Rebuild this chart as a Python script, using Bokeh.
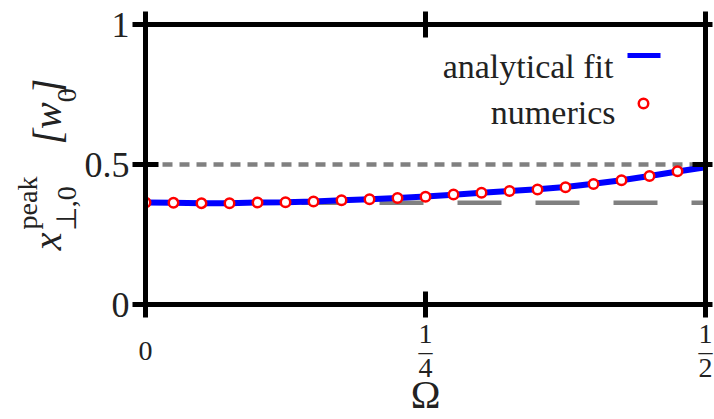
import math
from bokeh.plotting import figure
from bokeh.models import Range1d, FixedTicker, LinearAxis, Span, Label, Arrow, ColumnDataSource
from bokeh.embed import file_html
from bokeh.resources import INLINE

# ---------------- data ----------------
omega_num = [0.0, 0.025, 0.05, 0.075, 0.1, 0.125, 0.15, 0.175, 0.2, 0.225,
             0.25, 0.275, 0.3, 0.325, 0.35, 0.375, 0.4, 0.425, 0.45, 0.475]
xpeak_num = [0.364, 0.363, 0.362, 0.362, 0.364, 0.365, 0.368, 0.372, 0.376, 0.380,
             0.385, 0.393, 0.399, 0.405, 0.411, 0.419, 0.430, 0.444, 0.459, 0.476]
omega_fit = [0.0, 0.025, 0.05, 0.075, 0.1, 0.125, 0.15, 0.175, 0.2, 0.225,
             0.25, 0.275, 0.3, 0.325, 0.35, 0.375, 0.4, 0.425, 0.45, 0.475, 0.5]
xpeak_fit = [0.364, 0.363, 0.362, 0.362, 0.364, 0.365, 0.368, 0.372, 0.376, 0.380,
             0.386, 0.392, 0.399, 0.405, 0.412, 0.420, 0.431, 0.444, 0.459, 0.475, 0.490]
ref_upper = 0.5
ref_lower = 0.363

x_ticks = [0, 0.25, 0.5]
x_tick_labels = ["\u00a0\n0", "1\n\u2013\n4", "1\n\u2013\n2"]   # 0, stacked fractions 1/4, 1/2
y_ticks = [0, 0.5, 1]
y_tick_labels = ["0", "0.5", "1"]
x_title = "\u03a9"
# y title x^{peak}_{⊥,0} [w_0], split in superscript / main / subscript rows
EM, EN, S3, S4, S6, THIN = "\u2003", "\u2002", "\u2004", "\u2005", "\u2006", "\u2009"
y_title_sup = "peak" + EM + EM + S3 + S4 + S6
y_title_main = "x" + EM + EM + THIN + "[w" + THIN + "]"
y_title_sub = S3 + "\u22a5,0" + EM + EM + EM + "0"
legend_labels = ["analytical fit", "numerics"]

# ---------------- geometry (page pixels) ----------------
W, H = 714, 419
FL, FT, FW, FH = 145, 24, 560, 280
FR = W - FL - FW
FB = H - FT - FH

def dx(px):
    return (px - FL) / FW * 0.5

def dy(py):
    return 1 - (py - FT) / FH

SERIF = "Liberation Serif"
TXT = "#222222"

p = figure(width=W, height=H, x_range=Range1d(0, 0.5), y_range=Range1d(0, 1),
           output_backend="svg", toolbar_location=None,
           x_axis_location=None, y_axis_location=None,
           min_border_left=FL, min_border_right=FR, min_border_top=FT, min_border_bottom=FB)
p.xgrid.visible = False
p.ygrid.visible = False
p.outline_line_color = None
p.background_fill_color = "white"
p.border_fill_color = "white"

def style_axis(ax, ticks, tin, tout, show_labels=False, size="36px"):
    ax.ticker = FixedTicker(ticks=ticks)
    ax.axis_line_width = 5
    ax.axis_line_color = "black"
    ax.major_tick_line_width = 5
    ax.major_tick_line_color = "black"
    ax.major_tick_in = tin
    ax.major_tick_out = tout
    ax.minor_tick_line_color = None
    ax.axis_label_text_font = SERIF
    ax.axis_label_text_color = TXT
    ax.axis_label_text_font_style = "normal"
    if show_labels:
        ax.major_label_text_font = SERIF
        ax.major_label_text_font_size = size
        ax.major_label_text_color = TXT
        ax.major_label_standoff = 3
    else:
        ax.major_label_text_font_size = "1px"
        ax.major_label_text_color = None
        ax.major_label_standoff = 0
        ax.axis_label_standoff = 0

# left axis (ticks + tick labels + subscript row of the title)
left = LinearAxis()
style_axis(left, y_ticks, 13, 13, show_labels=True)
left.major_label_overrides = {t: s for t, s in zip(y_ticks, y_tick_labels)}
left.axis_label = y_title_sub
left.axis_label_text_font_size = "28px"
left.axis_label_standoff = 0
p.add_layout(left, "left")

# extra title-only axes on the left: main row, then superscript row
def title_axis(text, size, style, standoff):
    ax = LinearAxis()
    style_axis(ax, y_ticks, 0, 0)
    ax.axis_line_color = None
    ax.major_tick_line_color = None
    ax.axis_label = text
    ax.axis_label_text_font_size = size
    ax.axis_label_text_font_style = style
    ax.axis_label_standoff = standoff
    return ax

p.add_layout(title_axis(y_title_main, "40px", "italic", -22), "left")
p.add_layout(title_axis(y_title_sup, "28px", "normal", -21), "left")

right = LinearAxis()
style_axis(right, y_ticks, 13, 7)
p.add_layout(right, "right")

below = LinearAxis()
style_axis(below, x_ticks, 13, 13, show_labels=True, size="28px")
below.major_label_overrides = {t: s for t, s in zip(x_ticks, x_tick_labels)}
below.major_label_text_line_height = 0.55
below.major_label_standoff = 0
below.axis_label = x_title
below.axis_label_text_font_size = "40px"
below.axis_label_standoff = -14
p.add_layout(below, "below")

above = LinearAxis()
style_axis(above, x_ticks, 13, 13)
p.add_layout(above, "above")

# reference lines
p.add_layout(Span(location=ref_upper, dimension="width", line_color="#808080",
                  line_width=4.5, line_dash="10 7", level="underlay"))
p.add_layout(Span(location=ref_lower, dimension="width", line_color="#808080",
                  line_width=4.5, line_dash="44 34", level="underlay"))

# data
fit_src = ColumnDataSource(dict(x=omega_fit, y=xpeak_fit))
num_src = ColumnDataSource(dict(x=omega_num, y=xpeak_num))
p.line("x", "y", source=fit_src, line_color="#0000ff", line_width=6)
p.scatter("x", "y", source=num_src, marker="circle", size=9.5,
          line_color="#ff0000", line_width=2.5, fill_color="white")

# legend (label left of sample)
p.add_layout(Label(x=dx(613), y=dy(66), text=legend_labels[0], text_font=SERIF,
                   text_font_size="34px", text_color=TXT, text_align="right",
                   text_baseline="alphabetic"))
p.add_layout(Label(x=dx(615), y=dy(112), text=legend_labels[1], text_font=SERIF,
                   text_font_size="34px", text_color=TXT, text_align="right",
                   text_baseline="alphabetic"))
p.add_layout(Arrow(end=None, x_start=dx(627), x_end=dx(660), y_start=dy(55), y_end=dy(55),
                   line_color="#0000ff", line_width=5))
leg_src = ColumnDataSource(dict(x=[dx(643)], y=[dy(103)]))
p.scatter("x", "y", source=leg_src, marker="circle", size=9.5,
          line_color="#ff0000", line_width=2.5, fill_color="white")

open("out.html", "w").write(file_html(p, INLINE))
